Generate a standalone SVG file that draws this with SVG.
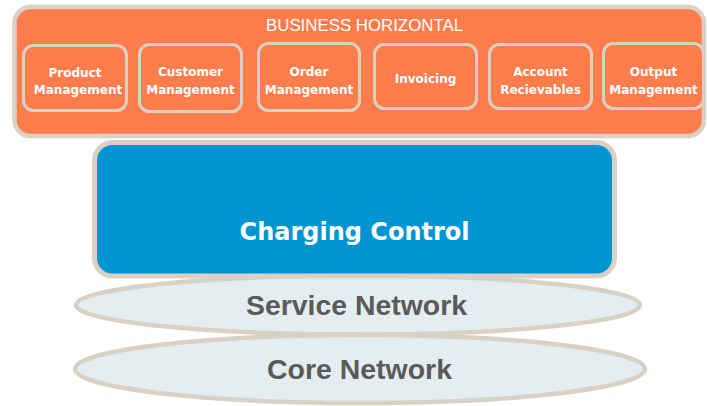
<svg xmlns="http://www.w3.org/2000/svg" width="707" height="406" viewBox="0 0 707 406">
<style>
.rim{stroke:#D9D1C4;}
.mod{fill:#FF7D4D;stroke:#D9D1C4;stroke-width:3;}
.mt{font-family:"DejaVu Sans",Verdana,sans-serif;font-weight:bold;font-size:12px;fill:#FFFFFF;text-anchor:middle;}
.net{fill:#E4EEF0;stroke:#D9D1C4;stroke-width:4.5;}
.nt{font-family:"Liberation Sans",Arial,sans-serif;font-weight:bold;font-size:27px;fill:#5A5A5A;text-anchor:middle;}
</style>
<rect width="707" height="406" fill="#FFFFFF"/>
<g id="connectors"/>
<g id="core-network">
<ellipse class="net" cx="360" cy="369" rx="285" ry="34"/>
<text class="nt" x="359.5" y="379" textLength="185" lengthAdjust="spacingAndGlyphs">Core Network</text>
</g>
<g id="service-network">
<ellipse class="net" cx="358" cy="305" rx="282" ry="29.5"/>
<text class="nt" x="356.5" y="315" textLength="221" lengthAdjust="spacingAndGlyphs">Service Network</text>
</g>
<g id="charging-control">
<rect class="rim" x="94.5" y="142.5" width="520" height="133.5" rx="18" fill="#0094D2" stroke-width="5"/>
<text x="354.5" y="240" font-family="'DejaVu Sans',Verdana,sans-serif" font-weight="bold" font-size="24" fill="#FFFFFF" text-anchor="middle">Charging Control</text>
</g>
<g id="business-horizontal">
<rect class="rim" x="14.5" y="7" width="689.5" height="129" rx="16" fill="#FF7D4D" stroke-width="4.5"/>
<text x="364.5" y="31" font-family="'Liberation Sans',Arial,sans-serif" font-size="17" fill="#FFFFFF" text-anchor="middle" textLength="197" lengthAdjust="spacingAndGlyphs">BUSINESS HORIZONTAL</text>
</g>
<g id="product-management">
<rect class="mod" x="23.5" y="45.5" width="103" height="65" rx="10"/>
<text class="mt" x="75" y="77">Product</text>
<text class="mt" x="78" y="94">Management</text>
</g>
<g id="customer-management">
<rect class="mod" x="139.5" y="44.5" width="102" height="67" rx="10"/>
<text class="mt" x="190.5" y="76">Customer</text>
<text class="mt" x="190.5" y="94">Management</text>
</g>
<g id="order-management">
<rect class="mod" x="258.5" y="43.5" width="101" height="67" rx="10"/>
<text class="mt" x="309" y="76">Order</text>
<text class="mt" x="309" y="94">Management</text>
</g>
<g id="invoicing">
<rect class="mod" x="374.5" y="44.5" width="102" height="64" rx="10"/>
<text class="mt" x="425.5" y="83">Invoicing</text>
</g>
<g id="account-recievables">
<rect class="mod" x="489.5" y="44.5" width="102" height="64" rx="10"/>
<text class="mt" x="540.5" y="76">Account</text>
<text class="mt" x="540.5" y="94">Recievables</text>
</g>
<g id="output-management">
<rect class="mod" x="603.5" y="43.5" width="100" height="65" rx="10"/>
<text class="mt" x="653.5" y="76">Output</text>
<text class="mt" x="653.5" y="94">Management</text>
</g>
</svg>
